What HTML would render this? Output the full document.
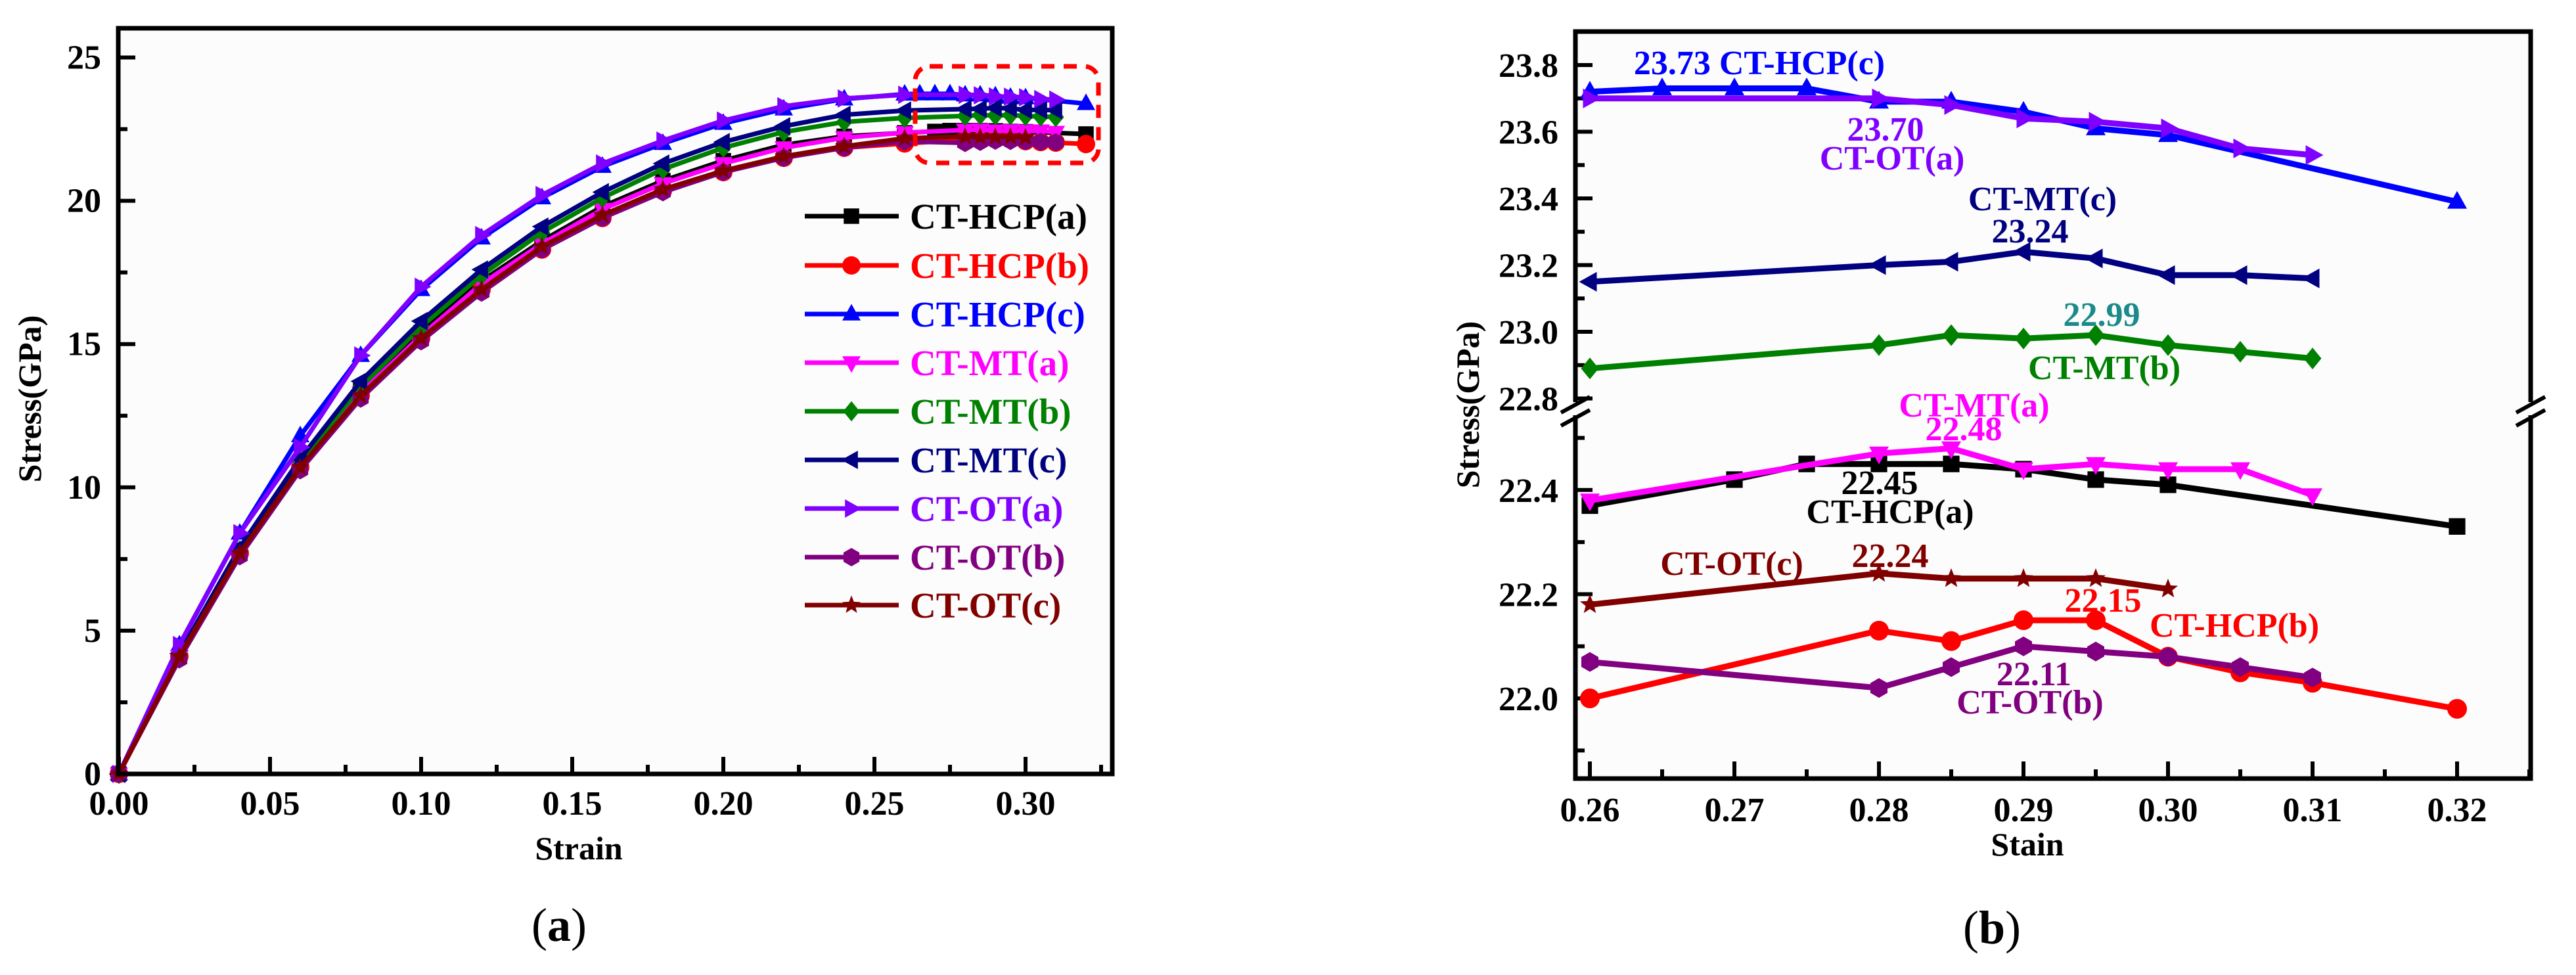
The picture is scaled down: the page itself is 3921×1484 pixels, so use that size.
<!DOCTYPE html>
<html><head><meta charset="utf-8">
<style>
html,body{margin:0;padding:0;background:#fff;}
svg{display:block;font-family:"Liberation Serif",serif;}
</style></head>
<body>
<svg id="fig" width="3921" height="1484" viewBox="0 0 3921 1484" xmlns="http://www.w3.org/2000/svg">
  <rect x="0" y="0" width="3921" height="1484" fill="#fff"/>
  <g id="left"></g>
  <g id="right"></g>
  <text x="851" y="1432" font-size="72" text-anchor="middle">(<tspan font-weight="bold">a</tspan>)</text>
  <text x="3032" y="1436" font-size="72" text-anchor="middle">(<tspan font-weight="bold">b</tspan>)</text>
</svg>
<script>
// ---------- data ----------
const seriesNames = ["CT-HCP(a)","CT-HCP(b)","CT-HCP(c)","CT-MT(a)","CT-MT(b)","CT-MT(c)","CT-OT(a)","CT-OT(b)","CT-OT(c)"];
const seriesColors = ["#000000","#ff0000","#0000ff","#ff00ff","#008000","#000080","#8000ff","#800080","#800000"];
const seriesMarkers = ["square","circle","up","down","diamond","left","right","hex","star"];
const headStrain = [0,0.02,0.04,0.06,0.08,0.10,0.12,0.14,0.16,0.18,0.20,0.22,0.24];
const headHCPa = [0,4.1,7.8,10.8,13.4,15.4,17.2,18.6,19.8,20.7,21.4,21.95,22.25];
const headHCPb = [0,4.1,7.7,10.7,13.2,15.2,16.9,18.3,19.4,20.35,21.0,21.5,21.85];
const headHCPc = [0,4.5,8.4,11.8,14.6,16.9,18.7,20.1,21.2,22.0,22.7,23.2,23.55];
const headMTa = [0,4.1,7.7,10.7,13.3,15.3,17.1,18.5,19.7,20.6,21.3,21.85,22.2];
const headMTb = [0,4.2,7.8,10.9,13.5,15.6,17.4,18.9,20.1,21.1,21.85,22.4,22.75];
const headMTc = [0,4.2,7.9,11.0,13.7,15.8,17.6,19.1,20.3,21.3,22.05,22.6,23.0];
const headOTa = [0,4.5,8.4,11.4,14.6,17.0,18.8,20.2,21.3,22.1,22.8,23.3,23.57];
const headOTb = [0,4.0,7.6,10.6,13.1,15.1,16.8,18.3,19.4,20.3,21.0,21.5,21.85];
const headOTc = [0,4.1,7.7,10.7,13.2,15.2,16.9,18.4,19.5,20.4,21.05,21.55,21.9];
// tail (zoomed region)
const tailXHCPa = [0.26,0.27,0.275,0.28,0.285,0.29,0.295,0.30,0.32];
const tailYHCPa = [22.37,22.42,22.45,22.45,22.45,22.44,22.42,22.41,22.33];
const tailXHCPb = [0.26,0.28,0.285,0.29,0.295,0.30,0.305,0.31,0.32];
const tailYHCPb = [22.00,22.13,22.11,22.15,22.15,22.08,22.05,22.03,21.98];
const tailXHCPc = [0.26,0.265,0.27,0.275,0.28,0.285,0.29,0.295,0.30,0.32];
const tailYHCPc = [23.72,23.73,23.73,23.73,23.69,23.69,23.66,23.61,23.59,23.39];
const tailXMTa = [0.26,0.28,0.285,0.29,0.295,0.30,0.305,0.31];
const tailYMTa = [22.38,22.47,22.48,22.44,22.45,22.44,22.44,22.39];
const tailXMTb = [0.26,0.28,0.285,0.29,0.295,0.30,0.305,0.31];
const tailYMTb = [22.89,22.96,22.99,22.98,22.99,22.96,22.94,22.92];
const tailXMTc = [0.26,0.28,0.285,0.29,0.295,0.30,0.305,0.31];
const tailYMTc = [23.15,23.20,23.21,23.24,23.22,23.17,23.17,23.16];
const tailXOTa = [0.26,0.28,0.285,0.29,0.295,0.30,0.305,0.31];
const tailYOTa = [23.70,23.70,23.68,23.64,23.63,23.61,23.55,23.53];
const tailXOTb = [0.26,0.28,0.285,0.29,0.295,0.30,0.305,0.31];
const tailYOTb = [22.07,22.02,22.06,22.10,22.09,22.08,22.06,22.04];
const tailXOTc = [0.26,0.28,0.285,0.29,0.295,0.30];
const tailYOTc = [22.18,22.24,22.23,22.23,22.23,22.21];
const leftXTicks = [0,0.05,0.10,0.15,0.20,0.25,0.30];
const leftXTickLabels = ["0.00","0.05","0.10","0.15","0.20","0.25","0.30"];
const leftYTicks = [0,5,10,15,20,25];
const rightXTicks = [0.26,0.27,0.28,0.29,0.30,0.31,0.32];
const rightXTickLabels = ["0.26","0.27","0.28","0.29","0.30","0.31","0.32"];
const rightYTickLabels = ["22.0","22.2","22.4","22.8","23.0","23.2","23.4","23.6","23.8"];
const rightYTickVals = [22.0,22.2,22.4,22.8,23.0,23.2,23.4,23.6,23.8];

const heads = [headHCPa,headHCPb,headHCPc,headMTa,headMTb,headMTc,headOTa,headOTb,headOTc];
const tailXs = [tailXHCPa,tailXHCPb,tailXHCPc,tailXMTa,tailXMTb,tailXMTc,tailXOTa,tailXOTb,tailXOTc];
const tailYs = [tailYHCPa,tailYHCPb,tailYHCPc,tailYMTa,tailYMTb,tailYMTc,tailYOTa,tailYOTb,tailYOTc];

const NS = "http://www.w3.org/2000/svg";
function el(tag, attrs, parent){
  const e = document.createElementNS(NS, tag);
  for (const k in attrs) e.setAttribute(k, attrs[k]);
  parent.appendChild(e);
  return e;
}
function markerPts(shape, x, y, s){
  const r = s/2;
  let pts = [];
  if (shape==="up") pts=[[x,y-r*1.1],[x+r,y+r*0.7],[x-r,y+r*0.7]];
  else if (shape==="down") pts=[[x,y+r*1.1],[x+r,y-r*0.7],[x-r,y-r*0.7]];
  else if (shape==="left") pts=[[x-r*1.1,y],[x+r*0.7,y-r],[x+r*0.7,y+r]];
  else if (shape==="right") pts=[[x+r*1.1,y],[x-r*0.7,y-r],[x-r*0.7,y+r]];
  else if (shape==="diamond") pts=[[x,y-r*1.1],[x+r*0.9,y],[x,y+r*1.1],[x-r*0.9,y]];
  else if (shape==="hex") { for(let i=0;i<6;i++){const a=Math.PI/3*i+Math.PI/6;pts.push([x+r*Math.cos(a),y+r*Math.sin(a)]);} }
  else if (shape==="star") { for(let i=0;i<10;i++){const a=-Math.PI/2+Math.PI/5*i;const rr=i%2?r*0.45:r*1.05;pts.push([x+rr*Math.cos(a),y+rr*Math.sin(a)]);} }
  return pts.map(p=>p[0].toFixed(1)+","+p[1].toFixed(1)).join(" ");
}
function drawMarker(g, shape, x, y, s, color){
  let m;
  if (shape==="circle") m = el("circle",{cx:x,cy:y,r:s/2,fill:color},g);
  else if (shape==="square") m = el("rect",{x:x-s*0.42,y:y-s*0.42,width:s*0.84,height:s*0.84,fill:color},g);
  else m = el("polygon",{points:markerPts(shape,x,y,s),fill:color},g);
  return m;
}

// ---------- LEFT PANEL ----------
(function(){
  const g = document.getElementById("left");
  const X0=180, X1=1693, Y0=43, Y1=1178;
  const sx = v => 181 + v/0.05*230;
  const sy = v => 1178 - v*43.62;
  const bg = el("rect",{x:X0,y:Y0,width:X1-X0,height:Y1-Y0,fill:"#fcfcfc"},g);
  
  
  for (let v=0; v<=0.325; v+=0.025){
    const major = Math.abs(v/0.05-Math.round(v/0.05))<1e-6;
    el("line",{x1:sx(v),x2:sx(v),y1:Y1,y2:Y1-(major?26:14),stroke:"#000","stroke-width":6},g);
  }
  for (let v=0; v<=25.1; v+=2.5){
    const major = Math.abs(v/5-Math.round(v/5))<1e-6;
    el("line",{x1:X0,x2:X0+(major?26:14),y1:sy(v),y2:sy(v),stroke:"#000","stroke-width":6},g);
  }
  leftXTicks.forEach((v,i)=>{
    const t = el("text",{x:sx(v),y:1240,"font-size":52,"font-weight":"bold","text-anchor":"middle"},g);
    t.textContent = leftXTickLabels[i];
    
    
  });
  leftYTicks.forEach(v=>{
    const t = el("text",{x:154,y:sy(v)+17,"font-size":52,"font-weight":"bold","text-anchor":"end"},g);
    t.textContent = String(v);
    
    
  });
  for (let k=0;k<9;k++){
    const sg = el("g",{},g);
    
    
    const xs = headStrain.concat(tailXs[k]);
    const ys = heads[k].concat(tailYs[k]);
    const d = xs.map((x,i)=>(i?"L":"M")+sx(x).toFixed(1)+","+sy(ys[i]).toFixed(1)).join(" ");
    el("path",{d:d,fill:"none",stroke:seriesColors[k],"stroke-width":7,"stroke-linejoin":"round"},sg);
    xs.forEach((x,i)=>{
      const m = drawMarker(sg, seriesMarkers[k], sx(x), sy(ys[i]), 28, seriesColors[k]);
      
      
    });
  }
  const fr = el("rect",{x:X0,y:Y0,width:X1-X0,height:Y1-Y0,fill:"none",stroke:"#000","stroke-width":7},g);
  
  
  const hb = el("rect",{x:1393,y:101,width:279,height:147,rx:22,fill:"none",stroke:"#ff0000","stroke-width":7,"stroke-dasharray":"20,14"},g);
  
  
  const legY = [329,404,478,552,626,700,774,848,921];
  for (let k=0;k<9;k++){
    const lg = el("g",{},g);
    
    
    el("line",{x1:1225,x2:1368,y1:legY[k],y2:legY[k],stroke:seriesColors[k],"stroke-width":7},lg);
    drawMarker(lg, seriesMarkers[k], 1296, legY[k], 28, seriesColors[k]);
    const t = el("text",{x:1385,y:legY[k]+19,"font-size":55,"font-weight":"bold",fill:seriesColors[k]},lg);
    t.textContent = seriesNames[k];
  }
  const xl = el("text",{x:881,y:1308,"font-size":50,"font-weight":"bold","text-anchor":"middle"},g);
  xl.textContent="Strain";
  
  
  const yl = el("text",{x:0,y:0,"font-size":50,"font-weight":"bold","text-anchor":"middle",transform:"translate(62,607) rotate(-90)"},g);
  yl.textContent="Stress(GPa)";
  
  
})();

// ---------- RIGHT PANEL ----------
(function(){
  const g = document.getElementById("right");
  const X0=2398, X1=3852, Y0=48, Y1=1185;
  const sx = v => 2420 + (v-0.26)/0.01*220;
  const sy = v => v>=22.7 ? 99 + (23.8-v)*507.5 : 1063 - (v-22.0)*793;
  const bg = el("rect",{x:X0,y:Y0,width:X1-X0,height:Y1-Y0,fill:"#fcfcfc"},g);
  
  
  for (let v=0.26; v<=0.3251; v+=0.005){
    const major = Math.abs(v/0.01-Math.round(v/0.01))<1e-6;
    el("line",{x1:sx(v),x2:sx(v),y1:Y1,y2:Y1-(major?26:14),stroke:"#000","stroke-width":6},g);
  }
  for (let v=22.8; v<=23.85; v+=0.1){
    const major = Math.abs(v/0.2-Math.round(v/0.2))<1e-6;
    el("line",{x1:X0,x2:X0+(major?26:14),y1:sy(v),y2:sy(v),stroke:"#000","stroke-width":6},g);
  }
  for (let v=21.9; v<=22.51; v+=0.1){
    const major = Math.abs(v/0.2-Math.round(v/0.2))<1e-6;
    el("line",{x1:X0,x2:X0+(major?26:14),y1:sy(v),y2:sy(v),stroke:"#000","stroke-width":6},g);
  }
  rightXTicks.forEach((v,i)=>{
    const t = el("text",{x:sx(v),y:1250,"font-size":52,"font-weight":"bold","text-anchor":"middle"},g);
    t.textContent = rightXTickLabels[i];
    
    
  });
  rightYTickVals.forEach((v,i)=>{
    const t = el("text",{x:2372,y:sy(v)+18,"font-size":52,"font-weight":"bold","text-anchor":"end"},g);
    t.textContent = rightYTickLabels[i];
    
    
  });
  for (let k=0;k<9;k++){
    const sg = el("g",{},g);
    
    
    const xs = tailXs[k], ys = tailYs[k];
    const d = xs.map((x,i)=>(i?"L":"M")+sx(x).toFixed(1)+","+sy(ys[i]).toFixed(1)).join(" ");
    el("path",{d:d,fill:"none",stroke:seriesColors[k],"stroke-width":9,"stroke-linejoin":"round"},sg);
    xs.forEach((x,i)=>{
      const m = drawMarker(sg, seriesMarkers[k], sx(x), sy(ys[i]), 30, seriesColors[k]);
      
      
    });
  }
  const fg = el("g",{},g);
  
  
  el("path",{d:`M${X0},612 L${X0},${Y0} L${X1},${Y0} L${X1},612 M${X0},632 L${X0},${Y1} L${X1},${Y1} L${X1},632`,fill:"none",stroke:"#000","stroke-width":7},fg);
  const bk = el("g",{},g);
  
  
  [X0,X1].forEach(x=>{
    el("line",{x1:x-22,y1:628,x2:x+22,y2:604,stroke:"#000","stroke-width":6},bk);
    el("line",{x1:x-22,y1:648,x2:x+22,y2:624,stroke:"#000","stroke-width":6},bk);
  });
  const ann = [
    ["23.73 CT-HCP(c)",2678,113,"#0000ff"],
    ["23.70",2870,214,"#8000ff"],
    ["CT-OT(a)",2880,258,"#8000ff"],
    ["CT-MT(c)",3109,320,"#000080"],
    ["23.24",3090,369,"#000080"],
    ["22.99",3199,496,"#1a8a8a"],
    ["CT-MT(b)",3203,577,"#008000"],
    ["CT-MT(a)",3005,634,"#ff00ff"],
    ["22.48",2989,670,"#ff00ff"],
    ["22.45",2861,752,"#000000"],
    ["CT-HCP(a)",2877,796,"#000000"],
    ["CT-OT(c)",2636,875,"#800000"],
    ["22.24",2877,863,"#800000"],
    ["22.15",3201,931,"#ff0000"],
    ["CT-HCP(b)",3401,969,"#ff0000"],
    ["22.11",3096,1043,"#800080"],
    ["CT-OT(b)",3090,1086,"#800080"]
  ];
  ann.forEach(a=>{
    const t = el("text",{x:a[1],y:a[2],"font-size":52,"font-weight":"bold","text-anchor":"middle",fill:a[3]},g);
    t.textContent = a[0];
    
    
  });
  const xl = el("text",{x:3086,y:1302,"font-size":50,"font-weight":"bold","text-anchor":"middle"},g);
  xl.textContent="Stain";
  
  
  const yl = el("text",{x:0,y:0,"font-size":50,"font-weight":"bold","text-anchor":"middle",transform:"translate(2251,616) rotate(-90)"},g);
  yl.textContent="Stress(GPa)";
  
  
})();
</script>
</body></html>
